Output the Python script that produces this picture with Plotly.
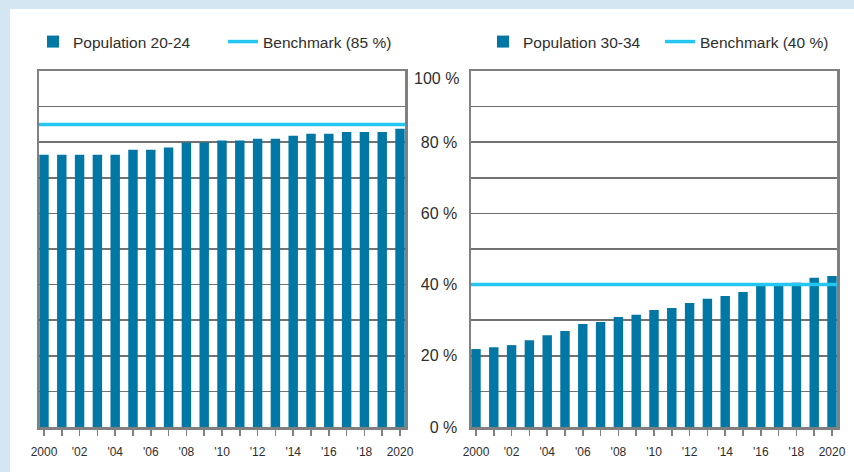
import plotly.graph_objects as go
from plotly.subplots import make_subplots

years = list(range(2000, 2021))
pop_20_24 = [76.5, 76.5, 76.5, 76.5, 76.5, 77.9, 77.9, 78.5, 79.9, 79.9, 80.5,
             80.5, 81.0, 81.0, 81.8, 82.4, 82.4, 82.9, 82.9, 82.9, 83.8]
pop_30_34 = [21.9, 22.4, 23.0, 24.4, 25.8, 27.0, 28.9, 29.5, 30.9, 31.5, 32.9,
             33.4, 34.8, 36.0, 36.8, 37.9, 40.0, 40.0, 40.5, 41.9, 42.4]
benchmark_left = 85
benchmark_right = 40
x_tick_text = ["2000", "", "'02", "", "'04", "", "'06", "", "'08", "", "'10", "",
               "'12", "", "'14", "", "'16", "", "'18", "", "2020"]
y_tick_vals = [0, 10, 20, 30, 40, 50, 60, 70, 80, 90, 100]
y_tick_text = ["0 %", "", "20 %", "", "40 %", "", "60 %", "", "80 %", "", ""]

BAR = "#0077a4"
LINE = "#26c6f2"
FRAME = "#808080"
GRID = "#727272"
TEXT = "#2e2e2e"
FONT = "Liberation Sans"
BG = "#d4e6f2"
x_range = [1999.72, 2020.28]

W, H = 854, 472
fig = make_subplots(rows=1, cols=2)

fig.add_trace(go.Bar(x=years, y=pop_20_24, name="Population 20-24", marker_color=BAR,
                     marker_line_width=0, legend="legend"), row=1, col=1)
fig.add_trace(go.Scatter(x=x_range, y=[benchmark_left] * 2, mode="lines",
                         name="Benchmark (85 %)", line=dict(color=LINE, width=3.5),
                         legend="legend"), row=1, col=1)
fig.add_trace(go.Bar(x=years, y=pop_30_34, name="Population 30-34", marker_color=BAR,
                     marker_line_width=0, legend="legend2"), row=1, col=2)
fig.add_trace(go.Scatter(x=x_range, y=[benchmark_right] * 2, mode="lines",
                         name="Benchmark (40 %)", line=dict(color=LINE, width=3.5),
                         legend="legend2"), row=1, col=2)

px = lambda v: v / W
py = lambda v: 1 - v / H

xd1 = [px(39), px(405)]
xd2 = [px(471), px(837)]
yd = [py(427), py(71)]

common_x = dict(range=x_range, tickvals=years, ticktext=x_tick_text, ticks="outside",
                ticklen=6, tickwidth=1.5, tickcolor=FRAME, showgrid=False,
                showline=True, mirror=True, linecolor=FRAME, linewidth=2.5,
                tickfont=dict(family=FONT, size=12, color=TEXT), zeroline=False,
                ticklabelstandoff=6, fixedrange=True)
common_y = dict(range=[0, 100], tickvals=y_tick_vals, showgrid=True, gridcolor=GRID,
                gridwidth=1.5, showline=True, mirror=True, linecolor=FRAME, linewidth=2.5,
                zeroline=False, ticks="", fixedrange=True,
                tickfont=dict(family=FONT, size=16, color=TEXT))

fig.update_xaxes(domain=xd1, **common_x, row=1, col=1)
fig.update_xaxes(domain=xd2, **common_x, row=1, col=2)
fig.update_yaxes(domain=yd, showticklabels=False, **common_y, row=1, col=1)
fig.update_yaxes(domain=yd, ticktext=y_tick_text, ticklabelstandoff=8, **common_y,
                 row=1, col=2)

fig.add_annotation(xref="x2 domain", yref="y2", x=0, y=100, text="100 %",
                   showarrow=False, xanchor="right", yanchor="middle", xshift=-10,
                   yshift=-8, font=dict(family=FONT, size=16, color=TEXT))

legend_common = dict(orientation="h", xanchor="left", yanchor="middle",
                     bgcolor="rgba(0,0,0,0)", borderwidth=0,
                     font=dict(family=FONT, size=15.5, color=TEXT),
                     itemclick=False, itemdoubleclick=False)

fig.update_layout(
    width=W, height=H,
    margin=dict(l=0, r=0, t=0, b=0, autoexpand=False),
    paper_bgcolor=BG,
    plot_bgcolor="white",
    bargap=0.47,
    showlegend=True,
    hovermode=False,
    legend=dict(x=px(33), y=py(42), entrywidth=145, entrywidthmode="pixels", **legend_common),
    legend2=dict(x=px(483), y=py(42), entrywidth=132, entrywidthmode="pixels", **legend_common),
    shapes=[dict(type="rect", xref="paper", yref="paper", x0=px(10), x1=1.01,
                 y0=-0.01, y1=py(9), fillcolor="white", line_width=0, layer="below")],
)

fig.write_html(
    "out.html",
    config={"displayModeBar": False, "staticPlot": True},
    post_script=(
        "document.documentElement.style.margin='0';"
        "document.body.style.margin='0';"
        "document.body.style.padding='0';"
        "document.body.style.overflow='hidden';"
        "document.body.style.background='" + BG + "';"
    ),
)
